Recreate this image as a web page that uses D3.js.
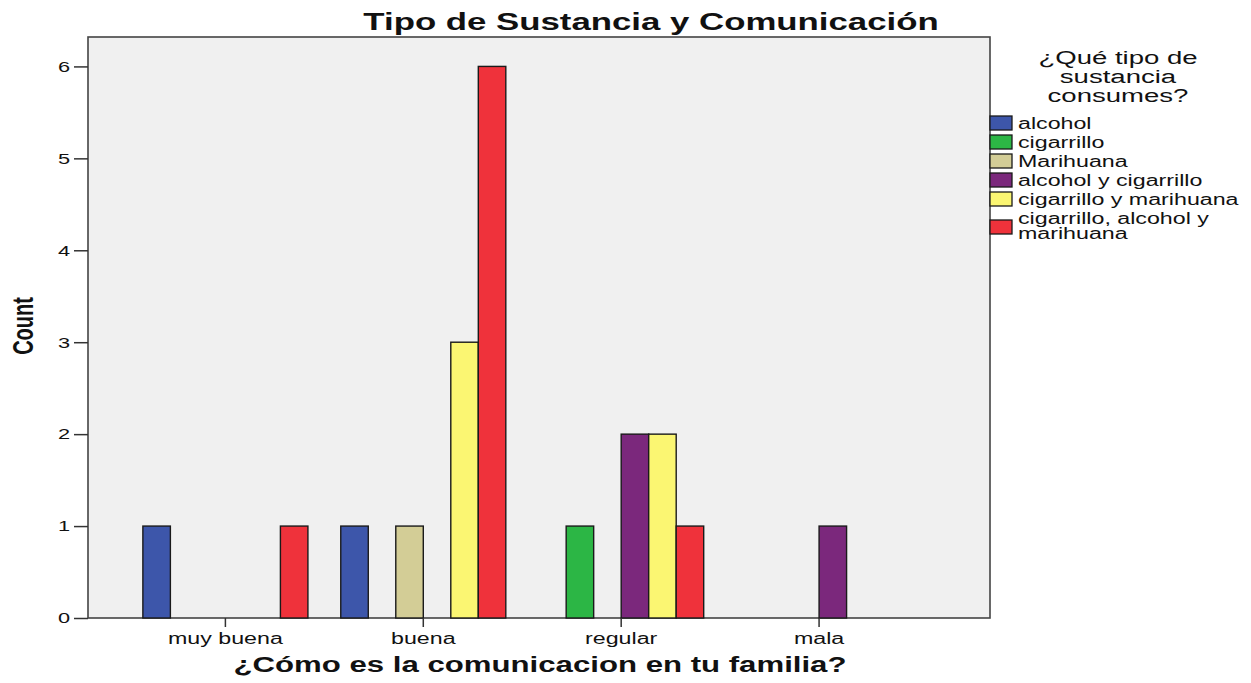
<!DOCTYPE html>
<html>
<head>
<meta charset="utf-8">
<script src="https://cdn.jsdelivr.net/npm/d3@7"></script>
<style>
  body { margin: 0; background: #fff; }
  text { font-family: "Liberation Sans", Arial, sans-serif; fill: #111; }
</style>
</head>
<body>
<svg id="chart"></svg>
<script>
// categories and series
var comunicacion = ["muy buena", "buena", "regular", "mala"];
var sustancias = ["alcohol", "cigarrillo", "Marihuana", "alcohol y cigarrillo",
                  "cigarrillo y marihuana", "cigarrillo, alcohol y marihuana"];
var colores = ["#3d56aa", "#2cb645", "#d3cd96", "#7b287c", "#fbf672", "#ef323b"];

// counts per substance, one value per category
var alcohol      = [1, 1, 0, 0];
var cigarrillo   = [0, 0, 1, 0];
var marihuana    = [0, 1, 0, 0];
var alcoholCig   = [0, 0, 2, 1];
var cigMar       = [0, 3, 2, 0];
var cigAlcMar    = [1, 6, 1, 0];
var yTicks = [0, 1, 2, 3, 4, 5, 6];

var series = [alcohol, cigarrillo, marihuana, alcoholCig, cigMar, cigAlcMar];

var W = 1251, H = 683;
var SX = 1.45; // the picture is stretched sideways
var plot = {left: 88, right: 990, top: 37, bottom: 618};

var svg = d3.select("#chart").attr("width", W).attr("height", H);

function widen(sel) {
    sel.each(function () {
        var len = this.getComputedTextLength();
        d3.select(this).attr("textLength", len * SX).attr("lengthAdjust", "spacingAndGlyphs");
    });
}

var x = d3.scaleBand().domain(comunicacion)
    .range([plot.left, plot.right])
    .paddingInner(0.166).paddingOuter(0.362).align(0.383);
var xSub = d3.scaleBand().domain(sustancias).range([0, x.bandwidth()]);
var y = d3.scaleLinear().domain([0, 6.32]).range([plot.bottom, plot.top]);
var color = d3.scaleOrdinal().domain(sustancias).range(colores);

// plot background
svg.append("rect")
    .attr("x", plot.left).attr("y", plot.top)
    .attr("width", plot.right - plot.left).attr("height", plot.bottom - plot.top)
    .attr("fill", "#f0f0f0").attr("stroke", "#444").attr("stroke-width", 1.6);

// bars
var rows = [];
comunicacion.forEach(function (c, i) {
    sustancias.forEach(function (s, j) {
        if (series[j][i] > 0) rows.push({cat: c, sus: s, v: series[j][i]});
    });
});

svg.append("g").selectAll("rect").data(rows).join("rect")
    .attr("x", function (d) { return x(d.cat) + xSub(d.sus); })
    .attr("y", function (d) { return y(d.v); })
    .attr("width", xSub.bandwidth())
    .attr("height", function (d) { return y(0) - y(d.v); })
    .attr("fill", function (d) { return color(d.sus); })
    .attr("stroke", "#1a1a1a").attr("stroke-width", 1.4);

// axes
var yAxis = svg.append("g")
    .attr("transform", "translate(" + plot.left + ",0)")
    .call(d3.axisLeft(y).tickValues(yTicks).tickFormat(d3.format("d")).tickSize(14).tickPadding(4));
yAxis.select(".domain").remove();
yAxis.selectAll(".tick line").attr("stroke", "#333").attr("stroke-width", 1.5);
yAxis.selectAll(".tick text").style("font-size", "15px").attr("fill", "#111").call(widen);

var xAxis = svg.append("g")
    .attr("transform", "translate(0," + plot.bottom + ")")
    .call(d3.axisBottom(x).tickSize(9).tickPadding(6));
xAxis.select(".domain").remove();
xAxis.selectAll(".tick")
    .attr("transform", function (d) { return "translate(" + (x(d) + x.bandwidth() / 2) + ",0)"; });
xAxis.selectAll(".tick line").attr("stroke", "#333").attr("stroke-width", 1.5);
xAxis.selectAll(".tick text").style("font-size", "16px").attr("fill", "#111").call(widen);

// titles
svg.append("text")
    .attr("transform", "translate(651,30) scale(" + SX + ",1)")
    .attr("text-anchor", "middle")
    .style("font-size", "24px").style("font-weight", "bold")
    .text("Tipo de Sustancia y Comunicación");

svg.append("text")
    .attr("transform", "translate(540,672) scale(" + SX + ",1)")
    .attr("text-anchor", "middle")
    .style("font-size", "21.5px").style("font-weight", "bold")
    .text("¿Cómo es la comunicacion en tu familia?");

svg.append("text")
    .attr("transform", "translate(33,326) scale(" + SX + ",1) rotate(-90)")
    .attr("text-anchor", "middle")
    .style("font-size", "20px").style("font-weight", "bold")
    .text("Count");

// legend
var legTitle = ["¿Qué tipo de", "sustancia", "consumes?"];
svg.append("g").selectAll("text").data(legTitle).join("text")
    .attr("transform", function (d, i) { return "translate(1118," + (64 + i * 19) + ") scale(" + SX + ",1)"; })
    .attr("text-anchor", "middle")
    .style("font-size", "19px")
    .text(function (d) { return d; });

var legend = svg.append("g").attr("transform", "translate(990,116)");
var item = legend.selectAll("g").data(sustancias).join("g")
    .attr("transform", function (d, i) { return "translate(0," + i * 19 + ")"; });

item.append("rect")
    .attr("x", 0)
    .attr("y", function (d, i) { return i === 5 ? 9 : 0; })
    .attr("width", 22).attr("height", 14)
    .attr("fill", function (d) { return color(d); })
    .attr("stroke", "#1a1a1a").attr("stroke-width", 1.3);

item.each(function (d, i) {
    var lines = i === 5 ? ["cigarrillo, alcohol y", "marihuana"] : [d];
    d3.select(this).selectAll("text").data(lines).join("text")
        .attr("x", 28)
        .attr("y", function (t, k) { return 13 + k * 15; })
        .style("font-size", "16px")
        .text(function (t) { return t; })
        .call(widen);
});
</script>
</body>
</html>
